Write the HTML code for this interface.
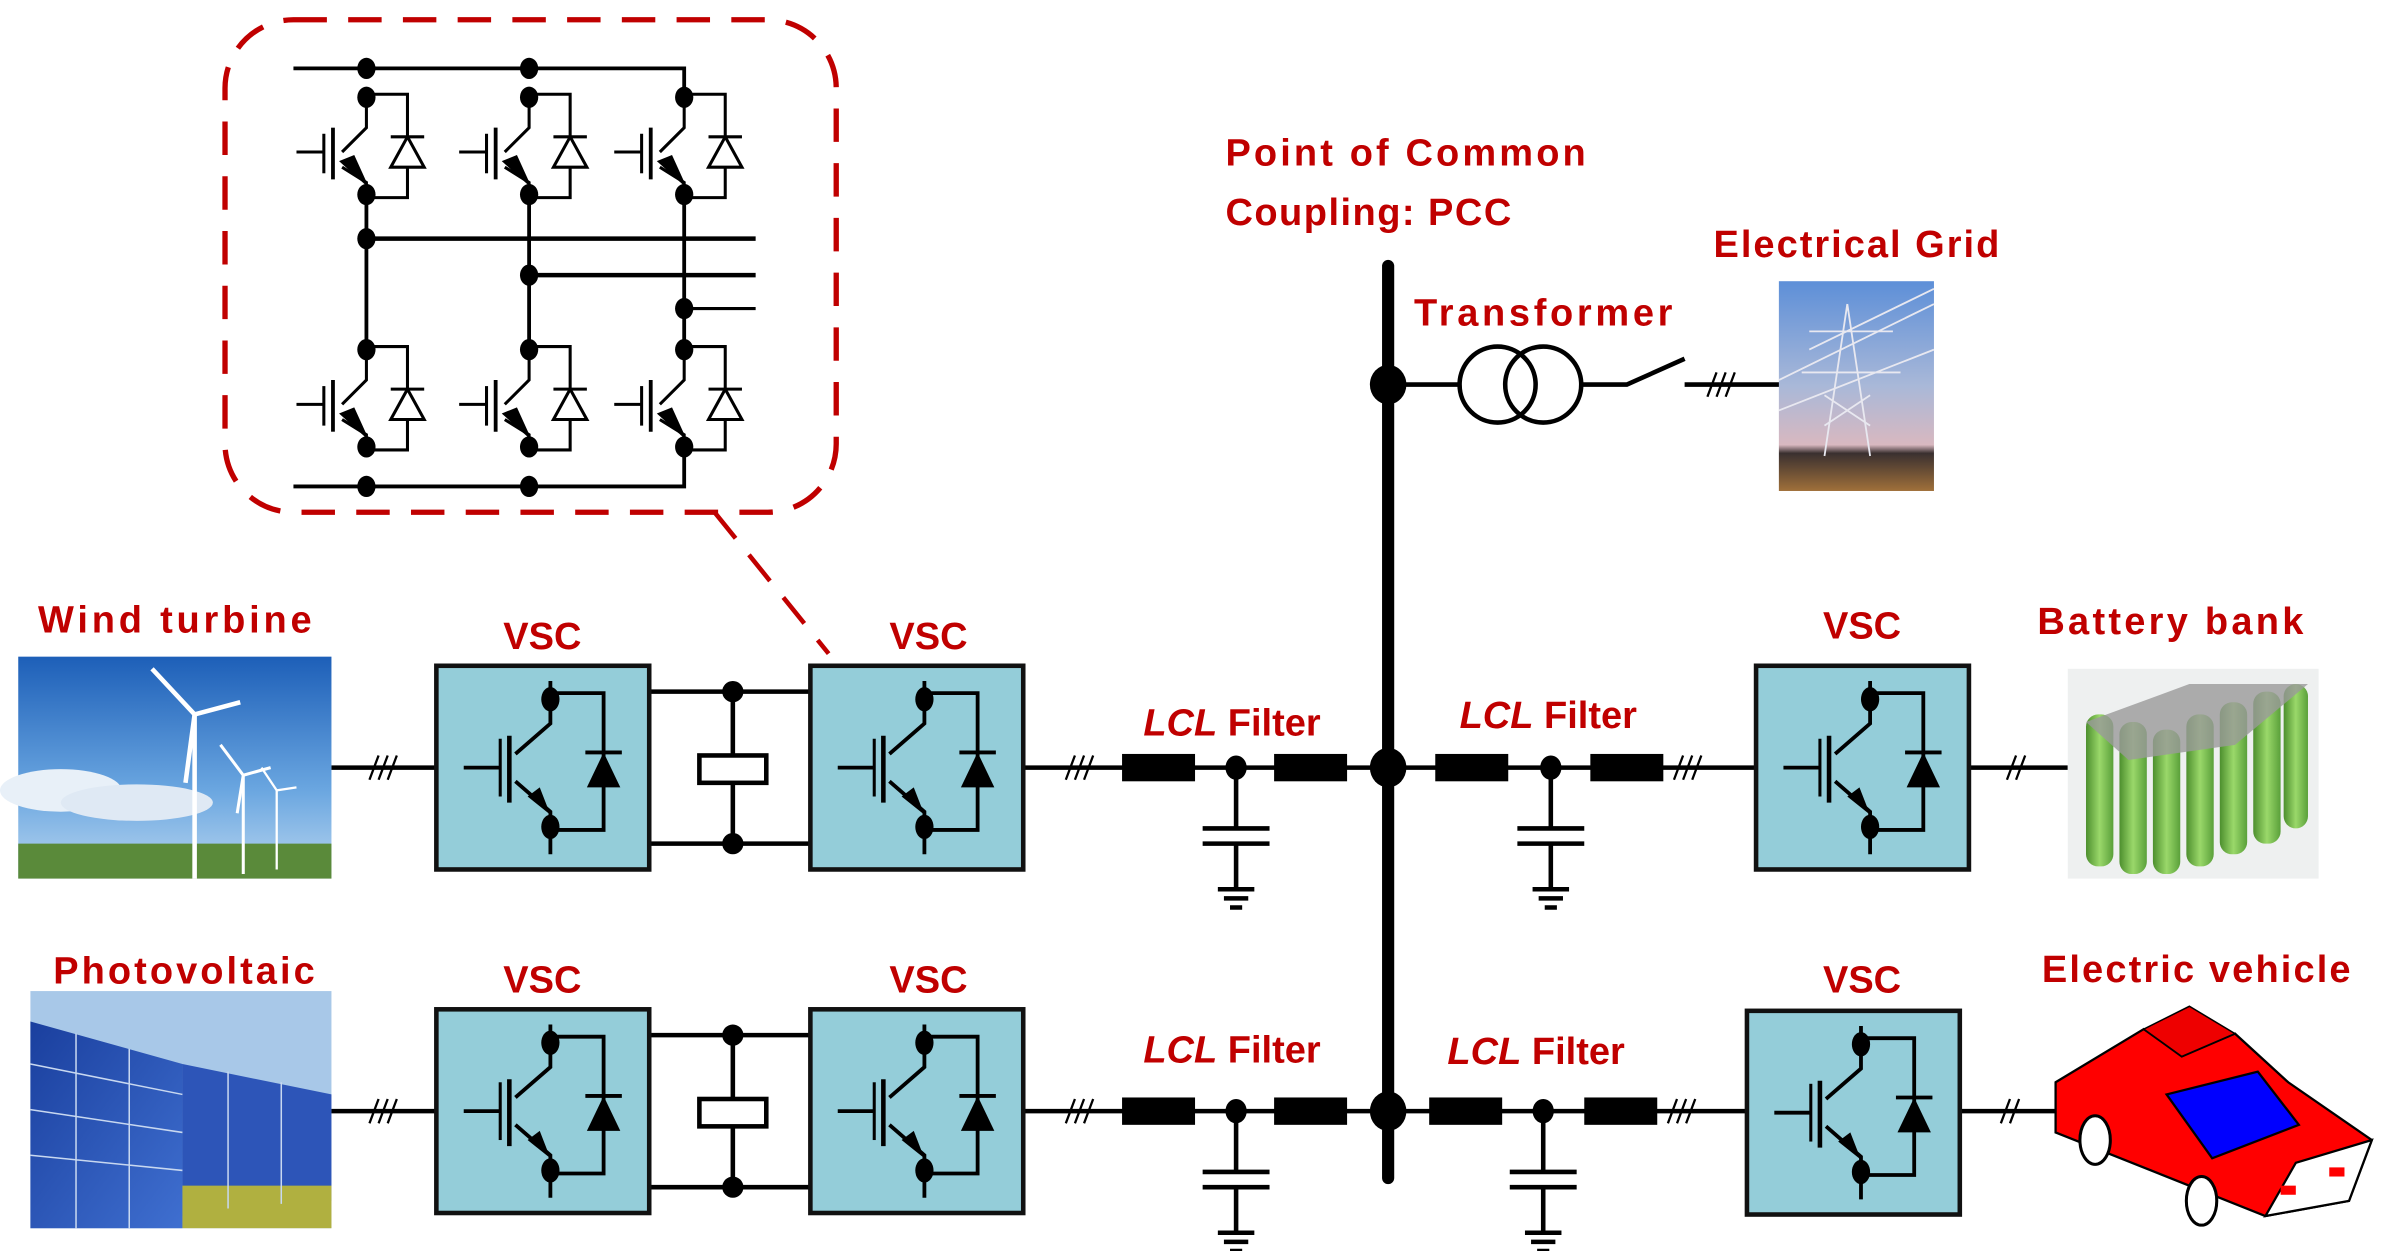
<!DOCTYPE html>
<html><head><meta charset="utf-8"><style>
html,body{margin:0;padding:0;background:#fff;}
svg{display:block;}
text{font-family:"Liberation Sans",sans-serif;font-weight:bold;fill:#c00000;}
</style></head><body>
<svg width="2384" height="1251" viewBox="0 0 1568 823" preserveAspectRatio="none" xmlns="http://www.w3.org/2000/svg">
<defs>
<linearGradient id="sky" x1="0" y1="0" x2="0" y2="1"><stop offset="0" stop-color="#1d5fb8"/><stop offset="0.6" stop-color="#6aa6e0"/><stop offset="1" stop-color="#b9d6f0"/></linearGradient>
<linearGradient id="dusk" x1="0" y1="0" x2="0" y2="1"><stop offset="0" stop-color="#5d8fd8"/><stop offset="0.5" stop-color="#a9b8d8"/><stop offset="0.78" stop-color="#d8b8c0"/><stop offset="0.82" stop-color="#3a3030"/><stop offset="1" stop-color="#a0703a"/></linearGradient>
<linearGradient id="pv" x1="0" y1="0" x2="1" y2="1"><stop offset="0" stop-color="#1a3f9e"/><stop offset="1" stop-color="#3f6fd0"/></linearGradient>
<linearGradient id="cell" x1="0" y1="0" x2="1" y2="0"><stop offset="0" stop-color="#4d8f2e"/><stop offset="0.5" stop-color="#9ad86a"/><stop offset="1" stop-color="#5aa03a"/></linearGradient>
<symbol id="vsc" viewBox="0 0 140 134" width="140" height="134" overflow="visible">
<rect x="0" y="0" width="140" height="134" fill="#94cdd9" stroke="#111" stroke-width="3"/>
<g stroke="#000" stroke-width="2.5" fill="none">
<path d="M75 10 V38 L52 58"/><path d="M52 76 L75 96 V124"/>
<path d="M18 67 H42"/><path d="M42 48 V86" stroke-width="2"/><path d="M48 46 V90" stroke-width="3"/>
<path d="M75 18 H110 V108 H75"/><path d="M98 57 H122"/>
</g>
<polygon points="75,98 60,86 68,80" fill="#000"/>
<polygon points="110,57 99,80 121,80" fill="#000"/>
<ellipse cx="75" cy="22" rx="6" ry="8" fill="#000"/><ellipse cx="75" cy="106" rx="6" ry="8" fill="#000"/>
</symbol>
<symbol id="sw" viewBox="0 0 80 70" width="80" height="70" overflow="visible">
<g stroke="#000" stroke-width="2" fill="none">
<path d="M0 0 V22 L-16 38"/><path d="M-16 48 L0 58 V68"/>
<path d="M-46 38 H-28"/><path d="M-28 26 V52"/><path d="M-22 22 V56" stroke-width="2.5"/>
<path d="M0 0 H27 V68 H0"/><path d="M16 28 H38"/>
<polygon points="27,28 16,48 38,48" fill="#fff"/>
</g>
<polygon points="2,62 -18,44 -8,40" fill="#000"/>
<ellipse cx="0" cy="2" rx="6" ry="7" fill="#000"/><ellipse cx="0" cy="66" rx="6" ry="7" fill="#000"/>
</symbol>
<g id="ind"><rect x="0" y="-9" width="48" height="18" fill="#000"/></g>
<g id="cap" stroke="#000" stroke-width="3" fill="none"><path d="M0 0 V35 M-22 35 H22 M-22 45 H22 M0 45 V75 M-12 75 H12 M-8 81 H8 M-4 87 H4"/></g>
<g id="tick3" stroke="#000" stroke-width="1.5"><path d="M-9 8 L-3 -8 M-3 8 L3 -8 M3 8 L9 -8"/></g>
<g id="tick2" stroke="#000" stroke-width="1.5"><path d="M-6 8 L0 -8 M0 8 L6 -8"/></g>
</defs>

<!-- inset -->
<rect x="148" y="13" width="402" height="324" rx="45" fill="none" stroke="#c00000" stroke-width="3.5" stroke-dasharray="22,14"/>
<path d="M470 337 L545 430" stroke="#c00000" stroke-width="3" stroke-dasharray="22,14"/>
<g stroke="#000" stroke-width="2.5" fill="none">
<path d="M193 45 H450 V62"/><path d="M193 320 H450 V296"/>
<path d="M241 130 V228"/><path d="M348 130 V228"/><path d="M450 130 V228"/>
<path d="M241 157 H497" stroke-width="3"/><path d="M348 181 H497" stroke-width="3"/><path d="M450 203 H497" stroke-width="2"/>
</g>
<g fill="#000">
<ellipse cx="241" cy="45" rx="6" ry="7"/><ellipse cx="348" cy="45" rx="6" ry="7"/>
<ellipse cx="241" cy="320" rx="6" ry="7"/><ellipse cx="348" cy="320" rx="6" ry="7"/>
<ellipse cx="241" cy="157" rx="6" ry="7"/><ellipse cx="348" cy="181" rx="6" ry="7"/><ellipse cx="450" cy="203" rx="6" ry="7"/>
</g>
<use href="#sw" x="241" y="62"/><use href="#sw" x="348" y="62"/><use href="#sw" x="450" y="62"/>
<use href="#sw" x="241" y="228"/><use href="#sw" x="348" y="228"/><use href="#sw" x="450" y="228"/>

<!-- main wiring -->
<g stroke="#000" stroke-width="3" fill="none">
<path d="M218 505 H287"/><path d="M218 731 H287"/>
<path d="M427 455 H533 M427 555 H533 M482 455 V497 M482 515 V555"/>
<path d="M427 681 H533 M427 781 H533 M482 681 V723 M482 741 V781"/>
<path d="M673 505 H1155"/><path d="M673 731 H1149"/>
<path d="M1295 505 H1360"/><path d="M1289 731 H1352"/>
<path d="M913 253 H960"/><path d="M1040 253 H1070 L1108 236"/><path d="M1108 253 H1172"/>
</g>
<path d="M913 175 V775" stroke="#000" stroke-width="8" stroke-linecap="round"/>
<rect x="460" y="497" width="44" height="18" fill="#fff" stroke="#000" stroke-width="3"/>
<rect x="460" y="723" width="44" height="18" fill="#fff" stroke="#000" stroke-width="3"/>
<g fill="#000">
<circle cx="482" cy="455" r="7"/><circle cx="482" cy="555" r="7"/><circle cx="482" cy="681" r="7"/><circle cx="482" cy="781" r="7"/>
<ellipse cx="913" cy="253" rx="12" ry="13"/><ellipse cx="913" cy="505" rx="12" ry="13"/><ellipse cx="913" cy="731" rx="12" ry="13"/>
<ellipse cx="813" cy="505" rx="7" ry="8"/><ellipse cx="1020" cy="505" rx="7" ry="8"/>
<ellipse cx="813" cy="731" rx="7" ry="8"/><ellipse cx="1015" cy="731" rx="7" ry="8"/>
</g>
<circle cx="985" cy="253" r="25" fill="none" stroke="#000" stroke-width="3"/>
<circle cx="1015" cy="253" r="25" fill="none" stroke="#000" stroke-width="3"/>
<use href="#ind" x="738" y="505"/><use href="#ind" x="838" y="505"/><use href="#ind" x="944" y="505"/><use href="#ind" x="1046" y="505"/>
<use href="#ind" x="738" y="731"/><use href="#ind" x="838" y="731"/><use href="#ind" x="940" y="731"/><use href="#ind" x="1042" y="731"/>
<use href="#cap" x="813" y="510"/><use href="#cap" x="1020" y="510"/><use href="#cap" x="813" y="736"/><use href="#cap" x="1015" y="736"/>
<use href="#tick3" x="252" y="505"/><use href="#tick3" x="252" y="731"/>
<use href="#tick3" x="710" y="505"/><use href="#tick3" x="710" y="731"/>
<use href="#tick3" x="1110" y="505"/><use href="#tick3" x="1106" y="731"/>
<use href="#tick3" x="1132" y="253"/>
<use href="#tick2" x="1326" y="505"/><use href="#tick2" x="1322" y="731"/>

<use href="#vsc" x="287" y="438"/><use href="#vsc" x="533" y="438"/><use href="#vsc" x="1155" y="438"/>
<use href="#vsc" x="287" y="664"/><use href="#vsc" x="533" y="664"/><use href="#vsc" x="1149" y="665"/>

<!-- wind image -->
<rect x="12" y="432" width="206" height="146" fill="url(#sky)"/>
<ellipse cx="40" cy="520" rx="40" ry="14" fill="#e8f0f8"/><ellipse cx="90" cy="528" rx="50" ry="12" fill="#dfe9f4"/>
<rect x="12" y="555" width="206" height="23" fill="#5a8a3a"/>
<g stroke="#fff" stroke-width="3"><path d="M128 470 V578"/><path d="M128 470 L100 440 M128 470 L158 462 M128 470 L122 515"/>
<path d="M160 510 V575" stroke-width="2"/><path d="M160 510 L145 490 M160 510 L178 505 M160 510 L156 535" stroke-width="2"/>
<path d="M182 520 V572" stroke-width="1.5"/><path d="M182 520 L172 505 M182 520 L195 518" stroke-width="1.5"/></g>
<!-- PV image -->
<rect x="20" y="652" width="198" height="156" fill="#a8c8e8"/>
<polygon points="20,672 120,700 120,808 20,808" fill="url(#pv)"/>
<polygon points="120,700 218,720 218,790 120,800" fill="#2d55b8"/>
<rect x="120" y="780" width="98" height="28" fill="#b0b040"/>
<g stroke="#c8d8f0" stroke-width="1"><path d="M20 700 L120 720 M20 730 L120 745 M20 760 L120 770 M50 680 V808 M85 690 V808 M150 705 V795 M185 712 V792"/></g>
<!-- grid image -->
<rect x="1170" y="185" width="102" height="138" fill="url(#dusk)"/>
<g stroke="#e8e8f0" stroke-width="1.2" fill="none"><path d="M1215 200 L1200 300 M1215 200 L1230 300 M1190 218 H1245 M1185 245 H1250 M1200 260 L1230 280 M1230 260 L1200 280"/>
<path d="M1170 250 L1272 200 M1170 270 L1272 230 M1190 230 L1272 190"/></g>
<!-- battery image -->
<rect x="1360" y="440" width="165" height="138" fill="#eef0f0"/>
<g fill="url(#cell)">
<rect x="1372" y="470" width="18" height="100" rx="8"/><rect x="1394" y="475" width="18" height="100" rx="8"/><rect x="1416" y="480" width="18" height="95" rx="8"/>
<rect x="1438" y="470" width="18" height="100" rx="8"/><rect x="1460" y="462" width="18" height="100" rx="8"/><rect x="1482" y="455" width="18" height="100" rx="8"/><rect x="1502" y="450" width="16" height="95" rx="8"/>
</g>
<polygon points="1372,475 1440,450 1518,450 1470,490 1400,500" fill="#9a9a9a" opacity="0.8"/>
<!-- car -->
<polygon points="1352,712 1410,677 1435,695 1470,680 1505,712 1560,750 1545,790 1490,800 1352,745" fill="#f00" stroke="#000" stroke-width="1.5"/>
<polygon points="1410,677 1435,695 1470,680 1440,662" fill="#e00" stroke="#000" stroke-width="1"/>
<polygon points="1425,720 1485,705 1512,740 1455,762" fill="#00f" stroke="#000" stroke-width="1.5"/>
<polygon points="1490,800 1545,790 1560,750 1510,765" fill="#fff" stroke="#000" stroke-width="1.5"/>
<rect x="1500" y="780" width="10" height="6" fill="#f00"/><rect x="1532" y="768" width="10" height="6" fill="#f00"/>
<ellipse cx="1378" cy="750" rx="10" ry="16" fill="#fff" stroke="#000" stroke-width="2"/>
<ellipse cx="1448" cy="790" rx="10" ry="16" fill="#fff" stroke="#000" stroke-width="2"/>

<!-- labels -->
<g font-size="25">
<text x="25" y="416" textLength="180">Wind turbine</text>
<text x="35" y="647" textLength="172">Photovoltaic</text>
<text x="1340" y="417" textLength="175">Battery bank</text>
<text x="1343" y="646" textLength="203">Electric vehicle</text>
<text x="806" y="109" textLength="237">Point of Common</text>
<text x="806" y="148" textLength="188">Coupling: PCC</text>
<text x="1127" y="169" textLength="188">Electrical Grid</text>
<text x="930" y="214" textLength="170">Transformer</text>
<text x="331" y="427">VSC</text><text x="585" y="427">VSC</text><text x="1199" y="420">VSC</text>
<text x="331" y="653">VSC</text><text x="585" y="653">VSC</text><text x="1199" y="653">VSC</text>
<text x="752" y="484"><tspan font-style="italic">LCL</tspan> Filter</text>
<text x="960" y="479"><tspan font-style="italic">LCL</tspan> Filter</text>
<text x="752" y="699"><tspan font-style="italic">LCL</tspan> Filter</text>
<text x="952" y="700"><tspan font-style="italic">LCL</tspan> Filter</text>
</g>
</svg>
</body></html>
